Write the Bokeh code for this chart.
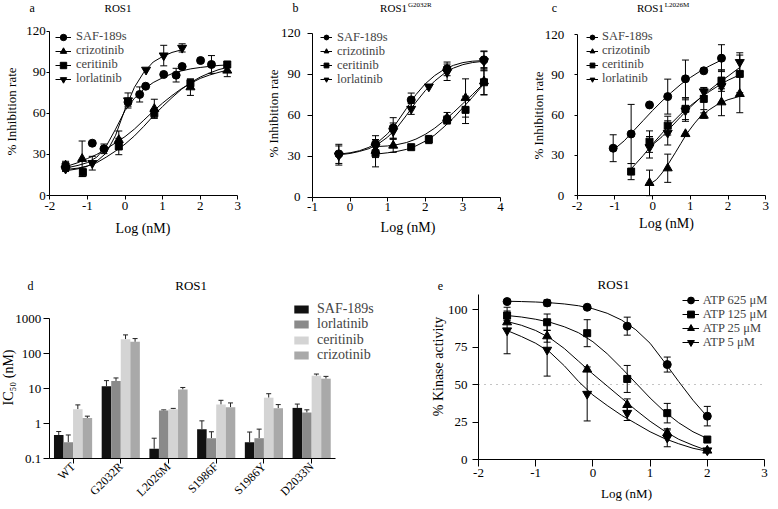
import math
from bokeh.plotting import figure
from bokeh.layouts import row, column
from bokeh.models import (Range1d, FixedTicker, Whisker, TeeHead, ColumnDataSource,
                          Legend, LegendItem, Label, CustomJSTickFormatter)
from bokeh.transform import dodge
from bokeh.embed import file_html
from bokeh.resources import INLINE

SERIF = "Liberation Serif"

# ---------------- panel a : ROS1 ----------------
a_x_saf = [-1.58, -0.87, -0.56, 0.08, 0.39, 0.55, 1.03, 1.36, 1.52, 2.01, 2.30]
a_y_saf = [20.7, 38.2, 34.1, 68.2, 73.8, 79.8, 88.4, 87.9, 94.2, 98.6, 95.7]
a_e_saf = [2, 0, 3.5, 3, 5.5, 0, 0, 5, 0, 0, 6.5]
a_x_criz = [-1.58, -1.14, -0.165, 0.78, 1.74, 2.72]
a_y_criz = [22.0, 26.8, 40.6, 63.3, 79.1, 91.3]
a_e_criz = [3, 13, 6.5, 7, 6, 4.5]
a_x_cer = [-1.58, -1.12, -0.165, 0.78, 1.74, 2.72]
a_y_cer = [21.2, 17.0, 35.8, 60.1, 82.0, 95.7]
a_e_cer = [3, 3, 6, 3, 3, 2]
a_x_lor = [-1.58, -0.87, 0.08, 0.56, 1.03, 1.52]
a_y_lor = [19.5, 23.6, 69.4, 91.8, 102.2, 107.8]
a_e_lor = [2, 5, 5.5, 0, 7.5, 3]
a_cx = [-1.58, -1.25, -1.0, -0.75, -0.5, -0.25, 0, 0.25, 0.5, 0.75, 1.0, 1.25, 1.5, 1.75, 2.0, 2.25, 2.5, 2.72]
a_c_saf = [20, 22, 24, 28, 36, 48.5, 62, 71, 77.5, 82.5, 86, 89, 91, 92.5, 93.5, 94.3, 95, 95.3]
a_c_criz = [21, 24, 27, 30, 34, 38.5, 43, 48.5, 55, 61.5, 67.5, 73, 78, 82, 85.5, 88, 90, 91.5]
a_c_cer = [18, 19.5, 21.5, 24, 28, 32.5, 37.5, 43.5, 50.5, 58, 65, 71.5, 77.5, 82.5, 86.5, 89.5, 92, 93.5]
a_cx_lor = [-1.58, -1.25, -1.0, -0.75, -0.5, -0.25, 0, 0.25, 0.5, 0.75, 1.0, 1.25, 1.52]
a_c_lor = [19, 20, 21.5, 25, 31, 44, 63, 79, 90, 97.5, 101.5, 104.5, 106.5]

# ---------------- panel b : ROS1 G2032R ----------------
b_x_saf = [-0.30, 0.676, 1.146, 1.625, 2.58, 3.56]
b_y_saf = [31.7, 39.0, 50.7, 71.2, 93.9, 100.5]
b_e_saf = [7, 6, 7.5, 5, 5, 6.5]
b_x_criz = [0.676, 1.146, 2.58, 3.07, 3.56]
b_y_criz = [34.0, 37.8, 58.0, 72.6, 84.8]
b_e_criz = [5, 5, 4, 14, 10]
b_x_cer = [0.676, 1.625, 2.094, 2.58, 3.07, 3.56]
b_y_cer = [32.2, 36.6, 42.2, 56.5, 63.9, 84.1]
b_e_cer = [10, 0, 3, 3, 10, 9]
b_x_lor = [-0.30, 0.676, 1.146, 1.625, 2.094, 2.58, 3.56]
b_y_lor = [30.5, 37.0, 48.3, 64.6, 80.9, 91.4, 99.5]
b_e_lor = [7, 5, 6, 4, 0, 6, 7]
b_cx_hi = [-0.30, 0, 0.25, 0.5, 0.75, 1.0, 1.25, 1.5, 1.75, 2.0, 2.25, 2.5, 2.75, 3.0, 3.25, 3.56]
b_c_saf = [31.5, 32.5, 34, 36.5, 40.5, 46.5, 55, 65, 75, 83, 89, 93.5, 96.5, 98.5, 99.5, 100]
b_c_lor = [31, 32, 33.5, 35.5, 39, 44, 51, 60, 69.5, 78, 85, 90.5, 94.5, 97, 98.5, 99.5]
b_cx_lo = [0.676, 1.0, 1.25, 1.5, 1.75, 2.0, 2.25, 2.5, 2.75, 3.0, 3.25, 3.56]
b_c_criz = [37, 37.5, 38.5, 40, 42.5, 46, 50.5, 56, 62, 68.5, 75, 83.5]
b_c_cer = [31.5, 32.5, 33.5, 35, 37.5, 41, 45.5, 51.5, 58, 65.5, 73, 83]

# ---------------- panel c : ROS1 L2026M ----------------
c_x_saf = [-1.046, -0.57, -0.083, 0.40, 0.87, 1.356, 1.825]
c_y_saf = [35.4, 46.0, 67.6, 73.8, 87.0, 93.0, 102.4]
c_e_saf = [10, 22, 0, 13, 14, 0, 10]
c_x_criz = [-0.083, 0.40, 0.87, 1.356, 1.825, 2.31]
c_y_criz = [9.6, 20.5, 46.0, 59.7, 69.6, 75.8]
c_e_criz = [9.5, 10.5, 0, 2, 10, 14]
c_x_cer = [-0.57, -0.083, 0.40, 0.87, 1.356, 1.825, 2.31]
c_y_cer = [18.0, 40.3, 52.2, 64.7, 72.1, 85.7, 90.7]
c_e_cer = [6, 8, 7, 8, 8, 8, 14]
c_x_lor = [-0.083, 0.40, 0.87, 1.356, 1.825, 2.31]
c_y_lor = [36.1, 46.8, 63.4, 77.6, 81.5, 99.4]
c_e_lor = [8, 9, 8, 3, 12, 7]
c_cx_saf = [-1.046, -0.75, -0.5, -0.25, 0, 0.25, 0.5, 0.75, 1.0, 1.25, 1.5, 1.825]
c_c_saf = [34, 41, 48.5, 56, 63.5, 70.5, 77, 83, 88, 92.5, 96.5, 101]
c_cx_criz = [-0.083, 0.1, 0.25, 0.4, 0.6, 0.75, 0.9, 1.1, 1.25, 1.5, 1.75, 2.0, 2.31]
c_c_criz = [8.5, 12, 17, 23, 32, 39, 46, 53.5, 58.5, 64, 68.5, 71.5, 74]
c_cx_cer = [-0.57, -0.25, 0, 0.25, 0.5, 0.75, 1.0, 1.25, 1.5, 1.75, 2.0, 2.31]
c_c_cer = [20, 30, 38.5, 46.5, 54, 61, 67, 72.5, 77.5, 82, 86, 90]
c_cx_lor = [-0.083, 0.25, 0.5, 0.75, 1.0, 1.25, 1.5, 1.75, 2.0, 2.31]
c_c_lor = [36, 44, 51.5, 59, 66, 72.5, 78.5, 84, 89, 95.5]

# ---------------- panel d : IC50 bars ----------------
d_cats = ["WT", "G2032R", "L2026M", "S1986F", "S1986Y", "D2033N"]
d_saf = [0.47, 11.6, 0.19, 0.69, 0.29, 2.79]
d_saf_err = [0.12, 5.2, 0.19, 0.5, 0.28, 0.8]
d_lor = [0.29, 16.4, 2.35, 0.38, 0.38, 2.06]
d_lor_err = [0.18, 3.6, 0.1, 0.2, 0.31, 0.4]
d_cer = [2.56, 256, 2.56, 3.47, 5.46, 23.2]
d_cer_err = [0.84, 84, 0.14, 1.13, 1.64, 2.7]
d_criz = [1.43, 215, 9.4, 2.92, 2.73, 19.1]
d_criz_err = [0.19, 52, 1.3, 0.95, 0.74, 3.1]
d_yticks = [0.1, 1, 10, 100, 1000]

# ---------------- panel e : kinase activity vs ATP ----------------
e_x = [-1.5, -0.8, -0.1, 0.6, 1.3, 2.0]
e_625 = [105.3, 104.4, 101.5, 88.9, 63.3, 28.9]
e_625_err = [0, 2, 0, 6, 5, 6.5]
e_125 = [96.0, 91.5, 84.2, 53.7, 30.9, 13.3]
e_125_err = [3, 5.5, 9, 9, 6.5, 0]
e_25 = [91.5, 82.2, 60.0, 36.4, 17.7, 6.0]
e_25_err = [1, 4, 0, 4, 2, 0]
e_5 = [86.0, 73.1, 43.7, 31.0, 14.5, 6.0]
e_5_err = [15.5, 17.5, 18, 5, 6, 0]
e_cx = [-1.5, -1.25, -1.0, -0.75, -0.5, -0.25, 0, 0.25, 0.5, 0.75, 1.0, 1.25, 1.5, 1.75, 2.0]
e_c625 = [105.5, 105.3, 105, 104.5, 103.7, 102.5, 100.5, 97.5, 93, 86.5, 77.5, 65, 52, 39.5, 28.5]
e_c125 = [96, 95, 93.5, 91.5, 88.5, 84.5, 78.5, 70.5, 61, 51, 41, 32, 24.5, 18.5, 14]
e_c25 = [92, 89.5, 86, 81, 74, 65.5, 57, 49, 41, 33, 25.5, 19, 13.5, 9.5, 6]
e_c5 = [86, 82, 77.5, 71.5, 62.5, 52, 43, 36, 29.5, 24, 18.5, 14, 10.5, 7.5, 5.5]
e_half = 50

drug_names = ["SAF-189s", "crizotinib", "ceritinib", "lorlatinib"]
drug_markers = {"SAF-189s": ("circle", 8), "crizotinib": ("triangle", 9),
                "ceritinib": ("square", 7), "lorlatinib": ("inverted_triangle", 9)}

PLAIN = "return tick.toString()"


class Panel:
    """Maps page pixels to data for a figure whose frame fills the whole figure."""
    def __init__(self, box, xmap, ymap, log_y=False):
        self.fx, self.fy, self.fw, self.fh = box
        (self.X0, self.x0), (self.X1, self.x1) = xmap
        (self.Y0, y0), (self.Y1, y1) = ymap
        self.log_y = log_y
        if log_y:
            y0, y1 = math.log10(y0), math.log10(y1)
        self.y0, self.y1 = y0, y1
        self.ppx = (self.X1 - self.X0) / (self.x1 - self.x0)
        self.ppy = (self.Y0 - self.Y1) / (self.y1 - self.y0)

    def dx(self, X):
        return self.x0 + (X - self.X0) / self.ppx

    def dy(self, Y):
        v = self.y0 + (self.Y0 - Y) / self.ppy
        return 10 ** v if self.log_y else v

    def figure(self):
        kw = dict(y_axis_type="log") if self.log_y else {}
        p = figure(width=self.fw, height=self.fh,
                   x_range=Range1d(self.dx(self.fx), self.dx(self.fx + self.fw)),
                   y_range=Range1d(self.dy(self.fy + self.fh), self.dy(self.fy)),
                   output_backend="svg", toolbar_location=None,
                   min_border=0, min_border_left=0, min_border_right=0,
                   min_border_top=0, min_border_bottom=0, **kw)
        p.title.visible = False
        try:
            p.frame_align = False
        except Exception:
            pass
        p.outline_line_color = None
        p.grid.visible = False
        p.background_fill_color = None
        p.border_fill_color = None
        self.p = p
        return p

    def text(self, X, Y, txt, size, align="center", angle=0.0):
        self.p.add_layout(Label(x=self.dx(X), y=self.dy(Y), text=txt, text_font=SERIF,
                                text_font_size=size, text_align=align, angle=angle,
                                text_baseline="middle", text_color="black"))

    def legend_item(self, renderers, label, gx, cy, gw, gh, size, standoff):
        h = gh
        leg = Legend(items=[LegendItem(label=label, renderers=renderers)],
                     location=(gx - self.fx, (self.fy + self.fh) - cy - h / 2.0),
                     glyph_width=gw, glyph_height=gh, label_height=gh, spacing=0,
                     padding=0, margin=0, label_standoff=standoff,
                     label_text_font=SERIF, label_text_font_size=size,
                     border_line_color=None, background_fill_alpha=0)
        self.p.add_layout(leg)


def style_axis(ax, tick_out, lab_standoff, tick_size="13px"):
    ax.major_label_text_font = SERIF
    ax.major_label_text_font_size = tick_size
    ax.major_label_text_color = "black"
    ax.major_label_standoff = lab_standoff
    ax.major_tick_out = tick_out
    ax.major_tick_in = 0
    ax.minor_tick_line_color = None
    ax.axis_line_color = "black"
    ax.major_tick_line_color = "black"


def setup_axes(P, xb, yb, xticks, yticks, xt_out, xt_std, yt_out, yt_std):
    p = P.p
    xa, ya = p.xaxis[0], p.yaxis[0]
    xa.fixed_location = yb[0]
    ya.fixed_location = xb[0]
    xa.bounds = xb
    ya.bounds = yb
    xa.ticker = FixedTicker(ticks=xticks, minor_ticks=[])
    ya.ticker = FixedTicker(ticks=yticks, minor_ticks=[])
    xa.formatter = CustomJSTickFormatter(code=PLAIN)
    ya.formatter = CustomJSTickFormatter(code=PLAIN)
    style_axis(xa, xt_out, xt_std)
    style_axis(ya, yt_out, yt_std)


def add_series(p, marker, size, x, y, err, cx, cy, cap=7):
    lr = p.line(cx, cy, line_color="black", line_width=1)
    sr = p.scatter(x, y, marker=marker, size=size, fill_color="black", line_color="black")
    xs = [xi for xi, e in zip(x, err) if e > 0]
    lo = [yi - e for yi, e in zip(y, err) if e > 0]
    up = [yi + e for yi, e in zip(y, err) if e > 0]
    src = ColumnDataSource(dict(base=xs, lower=lo, upper=up))
    p.add_layout(Whisker(source=src, base="base", lower="lower", upper="upper",
                         dimension="height", line_color="black", line_width=1,
                         upper_head=TeeHead(size=cap, line_color="black", line_width=1),
                         lower_head=TeeHead(size=cap, line_color="black", line_width=1)))
    return lr, sr


def dose_panel(P, xb, xticks, yt_out, yt_std, series, leg_x, leg_y, gw, standoff):
    p = P.figure()
    setup_axes(P, xb, (0, 120), xticks, [0, 30, 60, 90, 120], 4, 2, yt_out, yt_std)
    rs = {}
    for name, x, y, e, cx, cy in series:
        mk, sz = drug_markers[name]
        rs[name] = add_series(p, mk, sz, x, y, e, cx, cy)
    for name, cy in zip(drug_names, leg_y):
        P.legend_item(list(rs[name]), name, leg_x, cy, gw, 20, "12.5px", standoff)
    return p


# ---------------- panel a ----------------
Pa = Panel((0, 0, 255, 250), ((49.3, -2), (237.3, 3)), ((195.0, 0), (30.7, 120)))
pa = dose_panel(Pa, (-2, 3), [-2, -1, 0, 1, 2, 3], 3, 1,
                [("SAF-189s", a_x_saf, a_y_saf, a_e_saf, a_cx, a_c_saf),
                 ("crizotinib", a_x_criz, a_y_criz, a_e_criz, a_cx, a_c_criz),
                 ("ceritinib", a_x_cer, a_y_cer, a_e_cer, a_cx, a_c_cer),
                 ("lorlatinib", a_x_lor, a_y_lor, a_e_lor, a_cx_lor, a_c_lor)],
                55, [36.8, 50.8, 64.8, 78.8], 16, 5)
Pa.text(31.7, 7, "a", "12px")
Pa.text(117.5, 7, "ROS1", "11px")
Pa.text(10.5, 111, "% Inhibition rate", "13px", angle=math.pi / 2)
Pa.text(142.5, 227.5, "Log (nM)", "14px")

# ---------------- panel b ----------------
Pb = Panel((255, 0, 260, 250), ((312.0, -1), (500.0, 4)), ((196.7, 0), (32.7, 120)))
pb = dose_panel(Pb, (-1, 4), [-1, 0, 1, 2, 3, 4], 5, 7,
                [("SAF-189s", b_x_saf, b_y_saf, b_e_saf, b_cx_hi, b_c_saf),
                 ("crizotinib", b_x_criz, b_y_criz, b_e_criz, b_cx_lo, b_c_criz),
                 ("ceritinib", b_x_cer, b_y_cer, b_e_cer, b_cx_lo, b_c_cer),
                 ("lorlatinib", b_x_lor, b_y_lor, b_e_lor, b_cx_hi, b_c_lor)],
                320, [37.3, 51.3, 65.3, 79.3], 12, 5)
Pb.text(295, 7, "b", "12px")
Pb.text(406.5, 7, "ROS1", "11px", "right")
Pb.text(407.5, 4.5, "G2032R", "7px", "left")
Pb.text(273, 113, "% Inhibition rate", "13px", angle=math.pi / 2)
Pb.text(407.5, 226.5, "Log (nM)", "14px")

# ---------------- panel c ----------------
Pc = Panel((515, 0, 263, 250), ((576.7, -2), (765.3, 3)), ((195.3, 0), (34.0, 120)))
pc = dose_panel(Pc, (-2, 3), [-2, -1, 0, 1, 2, 3], 3, 10,
                [("SAF-189s", c_x_saf, c_y_saf, c_e_saf, c_cx_saf, c_c_saf),
                 ("crizotinib", c_x_criz, c_y_criz, c_e_criz, c_cx_criz, c_c_criz),
                 ("ceritinib", c_x_cer, c_y_cer, c_e_cer, c_cx_cer, c_c_cer),
                 ("lorlatinib", c_x_lor, c_y_lor, c_e_lor, c_cx_lor, c_c_lor)],
                586, [36.5, 50.5, 64.5, 78.5], 12, 4)
Pc.text(554, 7, "c", "12px")
Pc.text(663.3, 7, "ROS1", "11px", "right")
Pc.text(664.3, 4.5, "L2026M", "7px", "left")
Pc.text(538, 115, "% Inhibition rate", "13px", angle=math.pi / 2)
Pc.text(666, 223, "Log (nM)", "14px")

# ---------------- panel d ----------------
Pd = Panel((0, 250, 400, 259), ((48.7, 0), (335.0, 6)), ((458.0, 0.1), (318.0, 1000)), log_y=True)
pd_ = Pd.figure()
d_pos = [i + 0.5 for i in range(len(d_cats))]
setup_axes(Pd, (0, len(d_cats)), (0.1, 1000), d_pos, d_yticks, 5, 1, 6, 2)
pd_.xaxis.formatter = CustomJSTickFormatter(args=dict(names=d_cats),
                                            code="return names[Math.floor(tick)]")
pd_.xaxis.major_label_orientation = math.pi / 4
pd_.xaxis.major_label_text_font_size = "12px"
dsrc = ColumnDataSource(dict(x=d_pos, saf=d_saf, lor=d_lor, cer=d_cer, criz=d_criz,
                             saf_up=[v + e for v, e in zip(d_saf, d_saf_err)],
                             lor_up=[v + e for v, e in zip(d_lor, d_lor_err)],
                             cer_up=[v + e for v, e in zip(d_cer, d_cer_err)],
                             criz_up=[v + e for v, e in zip(d_criz, d_criz_err)]))
d_leg_y = [309, 324, 339.5, 355]
for i, (key, off, color, label) in enumerate([("saf", -0.3, "#111111", "SAF-189s"),
                                              ("lor", -0.1, "#8a8a8a", "lorlatinib"),
                                              ("cer", 0.1, "#d4d4d4", "ceritinib"),
                                              ("criz", 0.3, "#a9a9a9", "crizotinib")]):
    r = pd_.vbar(x=dodge("x", off), top=key, bottom=0.1, width=0.2,
                 source=dsrc, fill_color=color, line_color=None)
    pd_.add_layout(Whisker(source=dsrc, base=dodge("x", off),
                           lower=key, upper=key + "_up", dimension="height",
                           line_color="#222222", line_width=1,
                           upper_head=TeeHead(size=5, line_color="#222222", line_width=1),
                           lower_head=None))
    # colour box (no visible text) and label text drawn as two aligned legends
    Pd.legend_item([r], " ", 292, d_leg_y[i], 18, 10, "1px", 0)
    Pd.legend_item([r], label, 317 - 4, d_leg_y[i], 0, 20, "14px", 4)
Pd.text(30, 285, "d", "12px")
Pd.text(190.7, 285, "ROS1", "13px")
Pd.text(8, 377, "IC\u2085\u2080 (nM)", "14px", angle=math.pi / 2)

# ---------------- panel e ----------------
Pe = Panel((400, 250, 378, 259), ((478.0, -2), (764.0, 3)), ((459.0, 0), (309.0, 100)))
pe = Pe.figure()
e_xb = (-2, 3)
setup_axes(Pe, e_xb, (0, 110), [-2, -1, 0, 1, 2, 3], [0, 25, 50, 75, 100], 7, 2, 6, 5)
pe.line(list(e_xb), [e_half, e_half], line_color="#888888", line_dash="1 5", line_width=1)
e_leg_y = [300, 314, 328, 342]
for i, (name, mk, sz, y, err, cy) in enumerate(
        [("ATP 625 \u03bcM", "circle", 8, e_625, e_625_err, e_c625),
         ("ATP 125 \u03bcM", "square", 7, e_125, e_125_err, e_c125),
         ("ATP 25 \u03bcM", "triangle", 9, e_25, e_25_err, e_c25),
         ("ATP 5 \u03bcM", "inverted_triangle", 9, e_5, e_5_err, e_c5)]):
    lr, sr = add_series(pe, mk, sz, e_x, y, err, e_cx, cy)
    Pe.legend_item([lr, sr], name, 681.7, e_leg_y[i], 17, 20, "12.5px", 4)
Pe.text(440, 285, "e", "12px")
Pe.text(613, 284, "ROS1", "13px")
Pe.text(438, 366, "% Kinase activity", "14px", angle=math.pi / 2)
Pe.text(626, 492.5, "Log (nM)", "13px")

layout = column(row(pa, pb, pc), row(pd_, pe))
open("out.html", "w").write(file_html(layout, INLINE))
